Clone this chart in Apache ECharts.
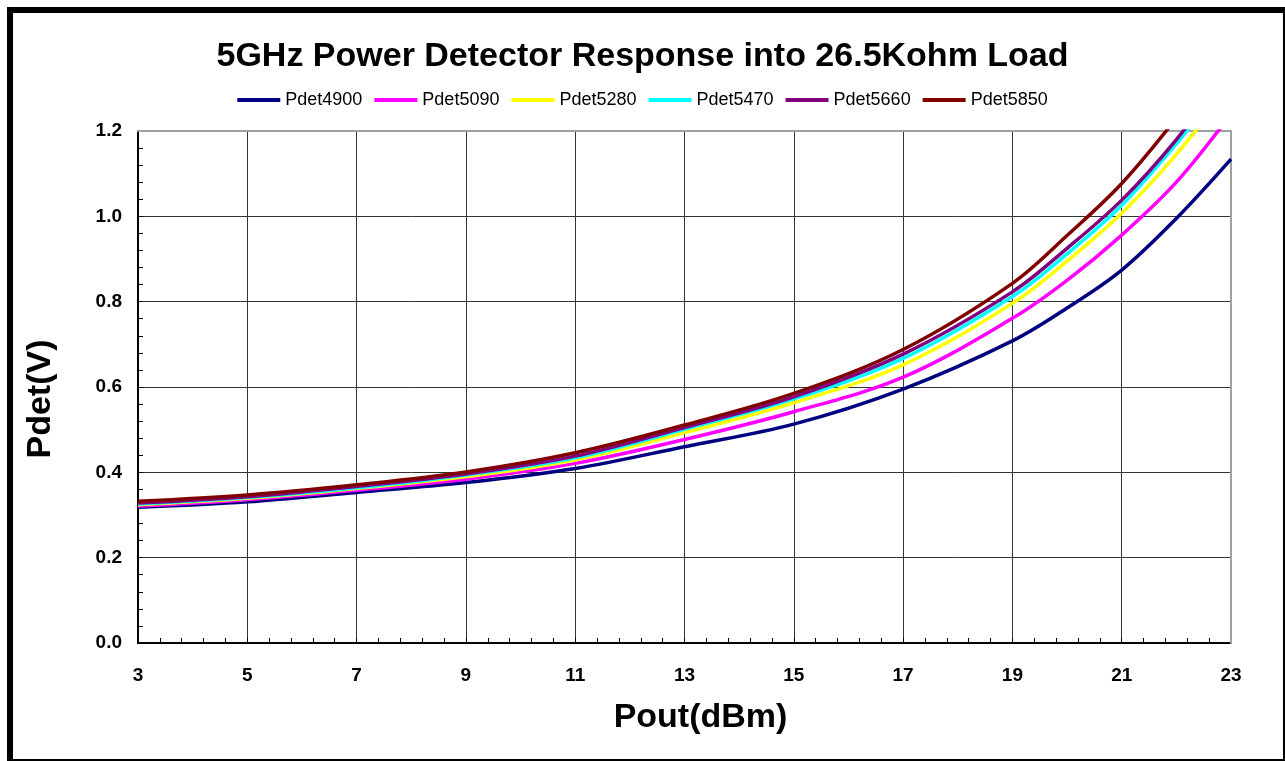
<!DOCTYPE html>
<html>
<head>
<meta charset="utf-8">
<title>5GHz Power Detector Response</title>
<script src="https://cdn.jsdelivr.net/npm/echarts@6/dist/echarts.min.js"></script>
<style>
  html, body { margin: 0; padding: 0; background: #fff; }
  #chart { width: 1285px; height: 761px; }
</style>
</head>
<body>
<div id="chart"></div>
<script>
// Pout (dBm) sample points
const pout = [3, 5, 7, 9, 11, 13, 15, 17, 19, 20, 21, 22, 23];

// Pdet (V) per frequency
const pdet4900 = [0.318, 0.331, 0.353, 0.376, 0.409, 0.460, 0.513, 0.595, 0.708, 0.785, 0.874, 0.995, 1.134];
const pdet5090 = [0.321, 0.336, 0.358, 0.384, 0.421, 0.477, 0.542, 0.623, 0.761, 0.850, 0.956, 1.080, 1.240];
const pdet5280 = [0.324, 0.339, 0.362, 0.390, 0.429, 0.493, 0.563, 0.652, 0.796, 0.895, 1.007, 1.145, 1.310];
const pdet5470 = [0.326, 0.341, 0.364, 0.394, 0.434, 0.501, 0.572, 0.667, 0.812, 0.912, 1.026, 1.170, 1.330];
const pdet5660 = [0.328, 0.343, 0.367, 0.396, 0.438, 0.505, 0.577, 0.677, 0.823, 0.925, 1.038, 1.180, 1.350];
const pdet5850 = [0.332, 0.347, 0.371, 0.401, 0.446, 0.511, 0.585, 0.688, 0.843, 0.955, 1.077, 1.230, 1.400];

const seriesNames = ['Pdet4900', 'Pdet5090', 'Pdet5280', 'Pdet5470', 'Pdet5660', 'Pdet5850'];
const seriesData = [pdet4900, pdet5090, pdet5280, pdet5470, pdet5660, pdet5850];
const seriesColors = ['#000080', '#ff00ff', '#ffff00', '#00ffff', '#800080', '#800000'];

const FONT = 'Arial, "Liberation Sans", sans-serif';

const chart = echarts.init(document.getElementById('chart'));

const series = seriesNames.map((name, i) => ({
  name,
  type: 'line',
  data: pout.map((x, j) => [x, seriesData[i][j]]),
  smooth: 0.35,
  showSymbol: false,
  symbol: 'none',
  clip: true,
  lineStyle: { width: 3.5, color: seriesColors[i] },
  itemStyle: { color: seriesColors[i] }
}));

chart.setOption({
  animation: false,
  backgroundColor: '#fff',
  title: {
    text: '5GHz Power Detector Response into 26.5Kohm Load',
    left: 'center',
    top: 35,
    textStyle: { fontFamily: FONT, fontSize: 34, fontWeight: 'bold', color: '#000' }
  },
  legend: {
    data: seriesNames,
    top: 86,
    left: 'center',
    icon: 'rect',
    itemWidth: 43,
    itemHeight: 4,
    itemGap: 12,
    textStyle: { fontFamily: FONT, fontSize: 18, color: '#000' }
  },
  grid: {
    left: 138,
    right: 54,
    top: 131,
    bottom: 118,
    containLabel: false
  },
  xAxis: [
    {
      type: 'value',
      min: 3,
      max: 23,
      interval: 2,
      name: 'Pout(dBm)',
      nameLocation: 'middle',
      nameGap: 58,
      nameTextStyle: {
        fontFamily: FONT,
        fontSize: 34,
        fontWeight: 'bold',
        color: '#000',
        padding: [0, 0, 0, 32]
      },
      axisLine: { show: true, lineStyle: { color: '#000', width: 2 } },
      axisTick: { show: true, inside: true, length: 5, lineStyle: { color: '#000' } },
      minorTick: { show: true, splitNumber: 5, length: 5, lineStyle: { color: '#000' } },
      axisLabel: { margin: 23, fontFamily: FONT, fontSize: 19, fontWeight: 'bold', color: '#000' },
      splitLine: { show: true, lineStyle: { color: '#333', width: 1 } }
    },
    {
      type: 'value',
      position: 'top',
      min: 3,
      max: 23,
      z: 1,
      axisLine: { show: true, onZero: false, lineStyle: { color: '#a0a0a0', width: 2 } },
      axisTick: { show: false },
      axisLabel: { show: false },
      splitLine: { show: false }
    }
  ],
  yAxis: [
    {
      type: 'value',
      min: 0,
      max: 1.2,
      interval: 0.2,
      name: 'Pdet(V)',
      nameLocation: 'middle',
      nameGap: 80,
      nameRotate: 90,
      nameTextStyle: {
        fontFamily: FONT,
        fontSize: 34,
        fontWeight: 'bold',
        color: '#000',
        padding: [0, 24, 0, 0]
      },
      axisLine: { show: true, lineStyle: { color: '#000', width: 2 } },
      axisTick: { show: true, inside: true, length: 5, lineStyle: { color: '#000' } },
      minorTick: { show: true, splitNumber: 5, length: 5, lineStyle: { color: '#000' } },
      axisLabel: {
        margin: 16,
        fontFamily: FONT,
        fontSize: 19,
        fontWeight: 'bold',
        color: '#000',
        formatter: v => v.toFixed(1)
      },
      splitLine: { show: true, lineStyle: { color: '#333', width: 1 } }
    },
    {
      type: 'value',
      position: 'right',
      min: 0,
      max: 1.2,
      z: 1,
      axisLine: { show: true, onZero: false, lineStyle: { color: '#a0a0a0', width: 2 } },
      axisTick: { show: false },
      axisLabel: { show: false },
      splitLine: { show: false }
    }
  ],
  series,
  graphic: [
    {
      type: 'rect',
      silent: true,
      z: 100,
      shape: { x: 10, y: 10, width: 1276, height: 752 },
      style: { fill: 'none', stroke: '#000', lineWidth: 6 }
    }
  ]
});
</script>
</body>
</html>
